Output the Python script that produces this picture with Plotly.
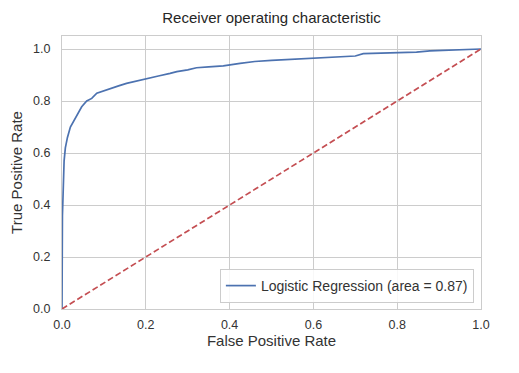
import plotly.graph_objects as go

fpr = [0.0, 0.0, 0.001, 0.002, 0.005, 0.008, 0.013, 0.02, 0.027, 0.035, 0.047, 0.059, 0.071, 0.083,
       0.1, 0.115, 0.135, 0.154, 0.18, 0.2, 0.23, 0.258, 0.274, 0.3, 0.321, 0.35, 0.385, 0.425, 0.46,
       0.5, 0.55, 0.592, 0.64, 0.687, 0.7, 0.719, 0.78, 0.846, 0.878, 0.93, 1.0]
tpr = [0.0, 0.28, 0.36, 0.41, 0.57, 0.62, 0.66, 0.70, 0.72, 0.746, 0.778, 0.80, 0.81, 0.83,
       0.84, 0.849, 0.858, 0.868, 0.878, 0.887, 0.896, 0.906, 0.913, 0.92, 0.928, 0.931, 0.935, 0.945, 0.952,
       0.956, 0.96, 0.964, 0.968, 0.971, 0.973, 0.982, 0.985, 0.988, 0.993, 0.996, 1.0]
diag = [0.0, 1.0]
auc = 0.87
ticks = [0.0, 0.2, 0.4, 0.6, 0.8, 1.0]
tick_text = ["0.0", "0.2", "0.4", "0.6", "0.8", "1.0"]

fig = go.Figure()
fig.add_trace(go.Scatter(x=fpr, y=tpr, mode="lines",
                         line=dict(color="#4c72b0", width=1.7),
                         name="Logistic Regression (area = %.2f)" % auc))
fig.add_trace(go.Scatter(x=diag, y=diag, mode="lines",
                         line=dict(color="#c44e52", width=1.7, dash="6px,3px"),
                         showlegend=False))

axis_common = dict(showgrid=True, gridcolor="#cccccc", gridwidth=1,
                   showline=True, linecolor="#cccccc", linewidth=1, mirror=True,
                   zeroline=False, ticks="outside", tickcolor="rgba(0,0,0,0)",
                   automargin=False,
                   tickfont=dict(size=12.5, color="#333333"),
                   tickvals=ticks, ticktext=tick_text)

fig.update_layout(
    width=511, height=365,
    margin=dict(l=54, r=38, t=28, b=64),
    paper_bgcolor="white", plot_bgcolor="white",
    font=dict(family="Liberation Sans, Arial, sans-serif", color="#262626", size=12),
    title=dict(text="Receiver operating characteristic", x=(271.5 - 8) / 511, xanchor="center",
               xref="container", yref="container",
               y=1 - 9.5 / 365, yanchor="middle", font=dict(size=15, color="#262626")),
    xaxis=dict(range=[0, 1.0], ticklen=4,
               title=dict(text="False Positive Rate", font=dict(size=15, color="#333333"), standoff=3),
               **axis_common),
    yaxis=dict(range=[0, 1.05], ticklen=8,
               title=dict(text="True Positive Rate", font=dict(size=15, color="#333333"), standoff=7),
               **axis_common),
    legend=dict(x=0.983, y=0.022, xanchor="right", yanchor="bottom",
                bgcolor="rgba(255,255,255,0.85)", bordercolor="#cccccc", borderwidth=1,
                font=dict(size=14, color="#333333")),
)

fig.write_html("out.html")
